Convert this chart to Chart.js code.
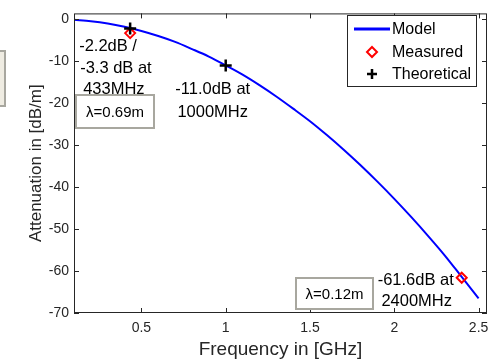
<!DOCTYPE html>
<html>
<head>
<meta charset="utf-8">
<script src="https://cdn.jsdelivr.net/npm/chart.js@4.4.0/dist/chart.umd.min.js"></script>
<style>
  html, body { margin: 0; padding: 0; background: #fff; }
  #wrap { width: 498px; height: 361px; }
</style>
</head>
<body>
<div id="wrap"><canvas id="attChart" width="498" height="361"></canvas></div>
<script>
// values
const freqGHz = [0.1, 0.2, 0.3, 0.4, 0.5, 0.6, 0.7, 0.8, 0.9, 1.0, 1.1, 1.2, 1.3,
                 1.4, 1.5, 1.6, 1.7, 1.8, 1.9, 2.0, 2.1, 2.2, 2.3, 2.4, 2.5];
const modelDb = [-0.1, -0.45, -1.0, -1.8, -2.8, -4.0, -5.4, -7.1, -8.9, -11.0, -13.2, -15.7, -18.4,
                 -21.3, -24.3, -27.6, -31.1, -34.8, -38.7, -42.8, -47.1, -51.6, -56.3, -61.4, -66.5];
const measuredFreq = [0.433, 2.4];
const measuredDb = [-3.3, -61.6];
const theoreticalFreq = [0.433, 1.0];
const theoreticalDb = [-2.2, -11.0];
const xTickValues = [0.5, 1, 1.5, 2, 2.5];
const yTickValues = [-70, -60, -50, -40, -30, -20, -10, 0];
const seriesNames = ['Model', 'Measured', 'Theoretical'];

const FONT = "'Liberation Sans', Arial, Helvetica, sans-serif";
const AXIS_COLOR = '#262626';

const toPoints = (xs, ys) => xs.map((x, i) => ({ x, y: ys[i] }));

// Frame, inward ticks, text annotations and legend, MATLAB style
const matlabDecor = {
    id: 'matlabDecor',
    afterDraw(chart) {
        const ctx = chart.ctx;
        const a = chart.chartArea;
        const xs = chart.scales.x;
        const ys = chart.scales.y;
        ctx.save();

        // axes box
        ctx.strokeStyle = AXIS_COLOR;
        ctx.lineWidth = 1;
        ctx.strokeRect(a.left + 0.5, a.top + 0.5, a.right - a.left - 1, a.bottom - a.top - 1);

        // ticks pointing inward on all four sides
        const tl = 5;
        ctx.beginPath();
        xTickValues.forEach(v => {
            const px = Math.round(xs.getPixelForValue(v)) + 0.5;
            ctx.moveTo(px, a.bottom); ctx.lineTo(px, a.bottom - tl);
            ctx.moveTo(px, a.top); ctx.lineTo(px, a.top + tl);
        });
        yTickValues.forEach(v => {
            const py = Math.round(ys.getPixelForValue(v)) + 0.5;
            ctx.moveTo(a.left, py); ctx.lineTo(a.left + tl, py);
            ctx.moveTo(a.right, py); ctx.lineTo(a.right - tl, py);
        });
        ctx.stroke();

        // text annotations, placed relative to the points they describe
        ctx.fillStyle = '#000';
        ctx.font = '16.5px ' + FONT;
        ctx.textBaseline = 'middle';
        const txt = (s, x, y, align) => { ctx.textAlign = align; ctx.fillText(s, x, y); };

        const p433x = xs.getPixelForValue(measuredFreq[0]);
        const p433y = ys.getPixelForValue(measuredDb[0]);
        txt('-2.2dB /', p433x - 51, p433y + 13, 'left');
        txt('-3.3 dB at', p433x - 50, p433y + 35, 'left');
        txt('433MHz', p433x - 47, p433y + 56, 'left');

        const p1000x = xs.getPixelForValue(theoreticalFreq[1]);
        const p1000y = ys.getPixelForValue(theoreticalDb[1]);
        txt('-11.0dB at', p1000x - 13, p1000y + 24, 'center');
        txt('1000MHz', p1000x - 13, p1000y + 47, 'center');

        const p2400x = xs.getPixelForValue(measuredFreq[1]);
        const p2400y = ys.getPixelForValue(measuredDb[1]);
        txt('-61.6dB at', p2400x - 46, p2400y + 3, 'center');
        txt('2400MHz', p2400x - 45, p2400y + 24, 'center');

        // wavelength boxes
        const lamBox = (s, x0, y0, x1, y1, fill) => {
            ctx.fillStyle = fill;
            ctx.fillRect(x0, y0, x1 - x0, y1 - y0);
            ctx.strokeStyle = '#a8a79f';
            ctx.lineWidth = 2;
            ctx.strokeRect(x0, y0, x1 - x0, y1 - y0);
            if (s) {
                ctx.fillStyle = '#000';
                ctx.font = '15px ' + FONT;
                txt(s, (x0 + x1) / 2, (y0 + y1) / 2 + 1, 'center');
            }
        };
        lamBox('\u03bb=0.69m', 76, 95, 154, 128, '#ffffff');
        lamBox('\u03bb=0.12m', 296, 278, 373, 309, '#ffffff');
        lamBox('', -4, 51, 5, 106, '#efece2');

        // legend
        const lg = { x0: 347, y0: 15, x1: 477, y1: 87 };
        ctx.fillStyle = '#fff';
        ctx.fillRect(lg.x0, lg.y0, lg.x1 - lg.x0, lg.y1 - lg.y0);
        ctx.strokeStyle = AXIS_COLOR;
        ctx.lineWidth = 1;
        ctx.strokeRect(lg.x0 + 0.5, lg.y0 + 0.5, lg.x1 - lg.x0 - 1, lg.y1 - lg.y0 - 1);
        const rowY = [29, 52, 74];
        const symX = 372;
        ctx.strokeStyle = '#0000ff';
        ctx.lineWidth = 3;
        ctx.beginPath(); ctx.moveTo(354, rowY[0]); ctx.lineTo(390, rowY[0]); ctx.stroke();
        // diamond
        ctx.strokeStyle = '#ff0000';
        ctx.lineWidth = 2;
        ctx.beginPath();
        ctx.moveTo(symX, rowY[1] - 5); ctx.lineTo(symX + 5, rowY[1]);
        ctx.lineTo(symX, rowY[1] + 5); ctx.lineTo(symX - 5, rowY[1]);
        ctx.closePath(); ctx.stroke();
        // plus
        ctx.strokeStyle = '#000';
        ctx.lineWidth = 2.5;
        ctx.beginPath();
        ctx.moveTo(symX - 5, rowY[2]); ctx.lineTo(symX + 5, rowY[2]);
        ctx.moveTo(symX, rowY[2] - 5); ctx.lineTo(symX, rowY[2] + 5);
        ctx.stroke();
        ctx.fillStyle = '#000';
        ctx.font = '16px ' + FONT;
        seriesNames.forEach((n, i) => txt(n, 392, rowY[i] + 1, 'left'));

        ctx.restore();
    }
};

const ctx = document.getElementById('attChart').getContext('2d');
const attChart = new Chart(ctx, {
    type: 'scatter',
    data: {
        datasets: [
            {
                label: seriesNames[0],
                data: toPoints(freqGHz, modelDb),
                showLine: true,
                borderColor: '#0000ff',
                borderWidth: 2,
                pointRadius: 0,
                cubicInterpolationMode: 'monotone',
                order: 3,
            },
            {
                label: seriesNames[1],
                data: toPoints(measuredFreq, measuredDb),
                pointStyle: 'rectRot',
                pointRadius: 5,
                borderColor: '#ff0000',
                backgroundColor: 'rgba(255,255,255,0)',
                borderWidth: 2,
                order: 2,
            },
            {
                label: seriesNames[2],
                data: toPoints(theoreticalFreq, theoreticalDb),
                pointStyle: 'cross',
                pointRadius: 6,
                borderColor: '#000000',
                borderWidth: 2.5,
                order: 1,
            },
        ],
    },
    options: {
        responsive: false,
        animation: false,
        devicePixelRatio: 1,
        layout: { padding: { top: 6, right: 11, left: 0, bottom: 0 } },
        scales: {
            x: {
                type: 'linear',
                min: 0.1,
                max: 2.55,
                afterBuildTicks: (s) => { s.ticks = xTickValues.map(v => ({ value: v })); },
                afterFit: (s) => { s.height = 48; },
                ticks: {
                    callback: (v) => String(v),
                    color: AXIS_COLOR,
                    font: { family: FONT, size: 14 },
                    padding: 7,
                    maxRotation: 0,
                    autoSkip: false,
                },
                grid: { display: false, drawTicks: false },
                border: { display: false },
                title: {
                    display: true,
                    text: 'Frequency in [GHz]',
                    color: AXIS_COLOR,
                    font: { family: FONT, size: 19 },
                    padding: { top: 0, bottom: 0 },
                },
            },
            y: {
                type: 'linear',
                min: -70,
                max: 1.4,
                afterBuildTicks: (s) => { s.ticks = yTickValues.map(v => ({ value: v })); },
                afterFit: (s) => { s.width = 74; },
                ticks: {
                    callback: (v) => String(v),
                    color: AXIS_COLOR,
                    font: { family: FONT, size: 14 },
                    padding: 5,
                    autoSkip: false,
                },
                grid: { display: false, drawTicks: false },
                border: { display: false },
                title: {
                    display: true,
                    text: 'Attenuation in [dB/m]',
                    color: AXIS_COLOR,
                    font: { family: FONT, size: 17 },
                    padding: { top: 26, bottom: 0 },
                },
            },
        },
        plugins: {
            legend: { display: false },
            tooltip: { enabled: false },
        },
    },
    plugins: [matlabDecor],
});
</script>
</body>
</html>
